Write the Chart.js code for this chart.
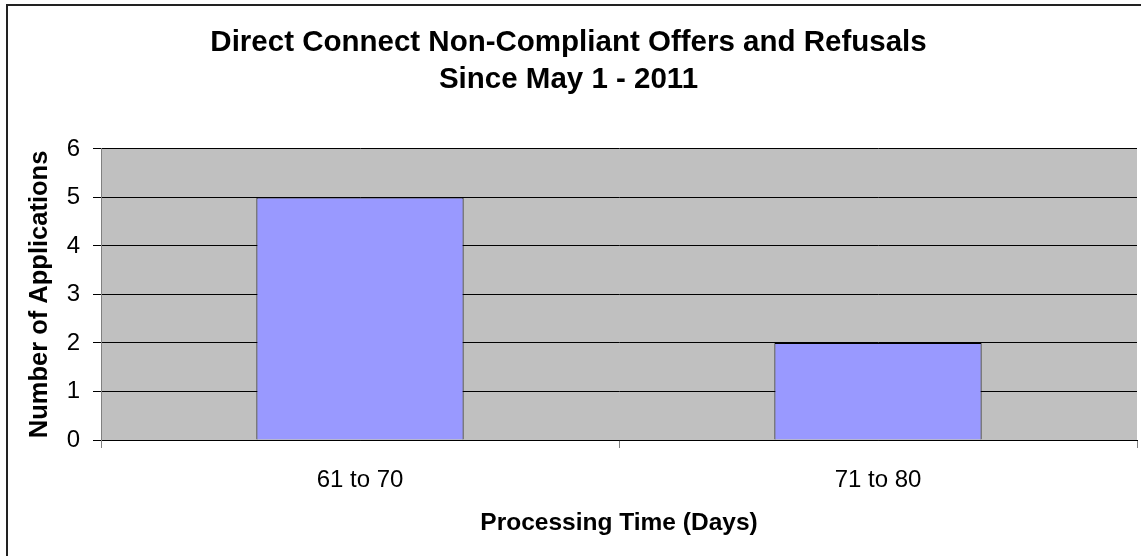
<!DOCTYPE html>
<html>
<head>
<meta charset="utf-8">
<title>Direct Connect Non-Compliant Offers and Refusals</title>
<script src="https://cdn.jsdelivr.net/npm/chart.js@4/dist/chart.umd.min.js"></script>
<style>
    html, body { margin: 0; padding: 0; background: #fff; }
    #chart-wrap { position: relative; width: 1141px; height: 556px; }
</style>
</head>
<body>
<div id="chart-wrap">
    <canvas id="offers-chart" width="1141" height="556"></canvas>
</div>
<script>
// Chart data
const categories = ['61 to 70', '71 to 80'];
const applications = [5, 2];
const titleLines = ['Direct Connect Non-Compliant Offers and Refusals', 'Since May 1 - 2011'];
const yTitle = 'Number of Applications';
const xTitle = 'Processing Time (Days)';

Chart.defaults.font.family = '"Liberation Sans", Arial, sans-serif';
Chart.defaults.color = '#000';

// Gray plot area + outer frame, like the old Excel chart
const backdrop = {
    id: 'backdrop',
    beforeDraw(chart) {
        const { ctx, chartArea } = chart;
        ctx.save();
        ctx.fillStyle = '#fff';
        ctx.fillRect(0, 0, chart.width, chart.height);
        ctx.fillStyle = '#C0C0C0';
        ctx.fillRect(chartArea.left, chartArea.top, chartArea.right - chartArea.left, chartArea.bottom - chartArea.top);
        ctx.strokeStyle = '#222';
        ctx.lineWidth = 2;
        ctx.beginPath();
        ctx.moveTo(7, chart.height);
        ctx.lineTo(7, 5);
        ctx.lineTo(chart.width, 5);
        ctx.stroke();
        ctx.restore();
    }
};

function renderChart() {
    const ctx = document.getElementById('offers-chart');

    new Chart(ctx, {
        type: 'bar',
        data: {
            labels: categories,
            datasets: [{
                label: 'Applications',
                data: applications,
                backgroundColor: '#9999FF',
                borderColor: '#000',
                borderWidth: 1,
                barPercentage: 0.4,
                categoryPercentage: 1.0
            }]
        },
        options: {
            responsive: false,
            animation: false,
            layout: {
                padding: { left: 0, right: 4, top: 0, bottom: 0 }
            },
            plugins: {
                legend: { display: false },
                tooltip: { enabled: false },
                title: {
                    display: true,
                    text: titleLines,
                    font: { size: 29.5, weight: 'bold', lineHeight: 1.27 },
                    color: '#000',
                    padding: { top: 24, bottom: 50 }
                }
            },
            scales: {
                x: {
                    afterFit(scale) { scale.height = 116; },
                    grid: {
                        offset: true,
                        drawOnChartArea: false,
                        drawTicks: true,
                        tickLength: 8,
                        color: '#808080'
                    },
                    border: { color: '#000', width: 1 },
                    ticks: {
                        font: { size: 24 },
                        padding: 18,
                        color: '#000'
                    },
                    title: {
                        display: true,
                        text: xTitle,
                        font: { size: 24.5, weight: 'bold', lineHeight: 1.2 },
                        padding: { top: 0, bottom: 18 },
                        color: '#000'
                    }
                },
                y: {
                    min: 0,
                    max: 6,
                    afterFit(scale) { scale.width = 101; },
                    grid: {
                        color: '#000',
                        tickColor: '#000',
                        tickLength: 8
                    },
                    border: { color: '#808080', width: 1 },
                    ticks: {
                        stepSize: 1,
                        font: { size: 24 },
                        padding: 13,
                        color: '#000'
                    },
                    title: {
                        display: true,
                        text: yTitle,
                        font: { size: 25.5, weight: 'bold', lineHeight: 1.2 },
                        padding: { top: 25, bottom: 0 },
                        color: '#000'
                    }
                }
            }
        },
        plugins: [backdrop]
    });
}

document.addEventListener('DOMContentLoaded', renderChart);
</script>
</body>
</html>
